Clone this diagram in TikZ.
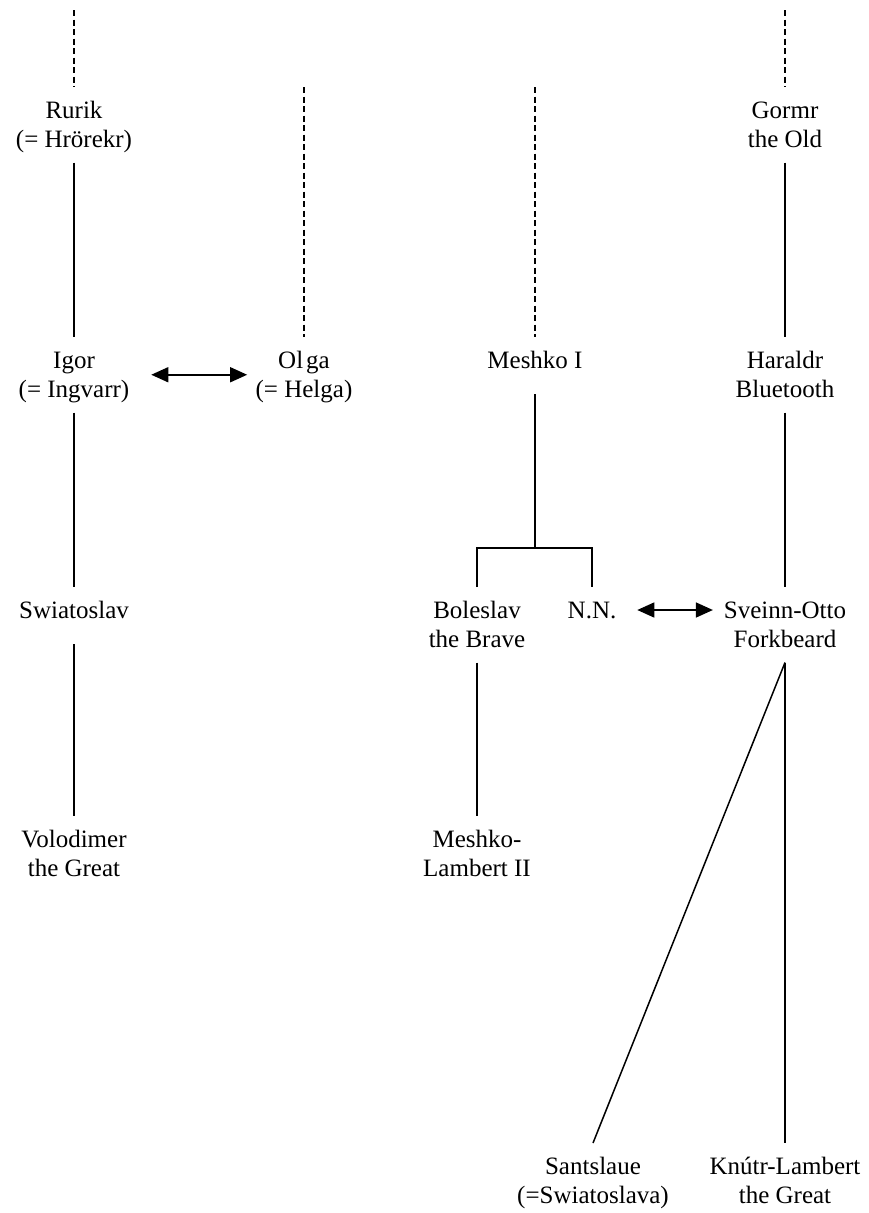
\documentclass[tikz,border=0pt]{standalone}
\usepackage{fontspec}
\setmainfont{Liberation Serif}
\usetikzlibrary{arrows.meta,calc}
\newcommand\twoL[2]{\rule{0pt}{31pt}#1\\#2\rule[-15pt]{0pt}{15pt}}
\newcommand\oneL[1]{\rule[-26pt]{0pt}{57pt}#1}
\begin{document}
\begin{tikzpicture}[x=1pt,y=-1pt,
  person/.style={anchor=north,align=center,inner sep=0pt,outer sep=0pt,font=\fontsize{25}{29.5}\selectfont},
  link/.style={line width=1.5pt},
  ancestry/.style={line width=1.5pt,dash pattern=on 6pt off 3.5pt},
  marriage/.style={line width=1.6pt,{Triangle[length=17pt,width=15pt]}-{Triangle[length=17pt,width=15pt]}}]
\useasboundingbox (0,0) rectangle (869,1213);
% people
\node[person] (rurik) at (74,87) {\twoL{Rurik}{(= Hrörekr)}};
\node[person] (igor) at (74,337) {\twoL{Igor}{(= Ingvarr)}};
\node[person] (swia) at (74,587) {\oneL{Swiatoslav}};
\node[person] (volo) at (74,816) {\twoL{Volodimer}{the Great}};
\node[person] (olga) at (304,337) {\twoL{Ol\kern3pt ga}{(= Helga)}};
\node[person] (meshko) at (535,337) {\oneL{Meshko I}};
\node[person] (bole) at (477,587) {\twoL{Boleslav}{the Brave}};
\node[person] (nn) at (592,587) {\oneL{N.N.}};
\node[person] (meshl) at (477,816) {\twoL{Meshko-}{Lambert II}};
\node[person] (gormr) at (785,87) {\twoL{Gormr}{the Old}};
\node[person] (harald) at (785,337) {\twoL{Haraldr}{Bluetooth}};
\node[person] (svein) at (785,587) {\twoL{Sveinn-Otto}{Forkbeard}};
\node[person] (sants) at (593,1143) {\twoL{Santslaue}{(=Swiatoslava)}};
\node[person] (knutr) at (785,1143) {\twoL{Knútr-Lambert}{the Great}};
% free ends of ancestry lines
\coordinate (rtop) at (74,10);
\coordinate (otop) at (304,87);
\coordinate (mtop) at (535,87);
\coordinate (gtop) at (785,10);
\draw[ancestry] (rtop) -- (rurik.north);
\draw[ancestry] (otop) -- (olga.north);
\draw[ancestry] (mtop) -- (meshko.north);
\draw[ancestry] (gtop) -- (gormr.north);
% descent
\draw[link] (rurik.south) -- (igor.north);
\draw[link] (igor.south) -- (swia.north);
\draw[link] (swia.south) -- (volo.north);
\draw[link] (gormr.south) -- (harald.north);
\draw[link] (harald.south) -- (svein.north);
\draw[link] (bole.south) -- (meshl.north);
\draw[link] (meshko.south) -- ++(0,154) coordinate (fork);
\draw[link] (bole.north) |- (fork) -| (nn.north);
\draw[link] (svein.south) -- (sants.north);
\draw[link] (svein.south) -- (knutr.north);
% marriages
\draw[marriage,shorten <=22pt,shorten >=8.5pt] (igor) -- (olga);
\draw[marriage,shorten <=21pt,shorten >=11pt] ($(nn.east)+(0,-5.5)$) -- ($(nn.east -| svein.west)+(0,-5.5)$);
\end{tikzpicture}
\end{document}
